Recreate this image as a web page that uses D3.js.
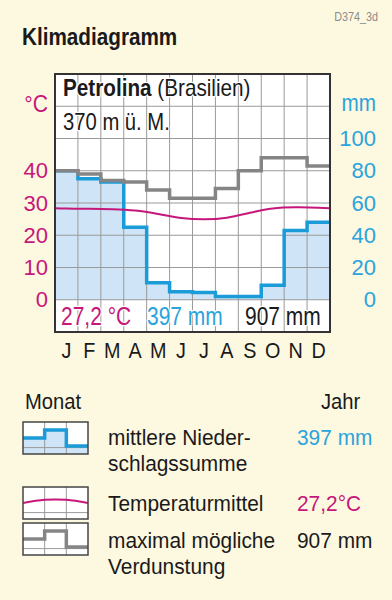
<!DOCTYPE html>
<html>
<head>
<meta charset="utf-8">
<script src="https://cdn.jsdelivr.net/npm/d3@7"></script>
<style>
  body { margin: 0; background: #fdf8e0; }
  text { font-family: "Liberation Sans", Arial, sans-serif; }
</style>
</head>
<body>
<div id="chart"></div>
<script>
const width = 392
const height = 600

// Werte
const monate = ["J", "F", "M", "A", "M", "J", "J", "A", "S", "O", "N", "D"]
const niederschlag = [80, 75, 73, 45, 10.5, 5, 4.5, 2, 2, 9, 43, 48]      // mm
const verdunstung = [80, 78, 74, 73, 68, 63, 63, 69, 80, 88, 88, 83]      // mm
const temperatur = [28.2, 28.2, 28.1, 27.8, 26.6, 25.2, 24.8, 25.2, 27.0, 28.5, 28.7, 28.6] // °C
const tempTicks = [0, 10, 20, 30, 40]
const mmTicks = [0, 20, 40, 60, 80, 100]

// Legenden-Symbole (3 Spalten)
const legendeStufen = [2, 3, 1]
const legendeBogen = [1, 1.4, 1.4, 1]

const blau = "#1b9bd8"
const blauText = "#2ba3dc"
const magenta = "#c6177a"
const grau = "#858585"
const schwarz = "#1a1a1a"

const svg = d3.select("#chart").append("svg")
    .attr("width", width)
    .attr("height", height)

// Text mit schmal gestauchter Schrift
function schrift(parent, tx, ty, groesse, sx, farbe) {
    return parent.append("text")
        .attr("transform", `translate(${tx},${ty}) scale(${sx},1)`)
        .attr("font-size", groesse)
        .attr("fill", farbe)
}

schrift(svg, 378, 21, 12, 0.9, "#8c8c8c")
    .attr("text-anchor", "end")
    .text("D374_3d")

schrift(svg, 22, 45, 23, 0.9, schwarz)
    .attr("font-weight", "bold")
    .text("Klimadiagramm")

// Skalen
const x = d3.scaleLinear().domain([0, 12]).range([55, 330])
const yT = d3.scaleLinear().domain([-10, 70]).range([332, 74])
const yN = d3.scaleLinear().domain([-20, 140]).range([332, 74])

const plot = svg.append("g")

plot.append("rect")
    .attr("x", x(0)).attr("y", yT(70))
    .attr("width", x(12) - x(0)).attr("height", yT(-10) - yT(70))
    .attr("fill", "white")

const stufen = (werte) => werte.map((v, i) => [i, v]).concat([[werte.length, werte[werte.length - 1]]])

// Niederschlagsfläche
plot.append("path")
    .attr("d", d3.area()
        .x(d => x(d[0]))
        .y0(yN(0))
        .y1(d => yN(d[1]))
        .curve(d3.curveStepAfter)(stufen(niederschlag)))
    .attr("fill", "#cfe4f6")

// Gitter
const gitter = plot.append("g").attr("stroke", "#9a9a9a").attr("stroke-width", 1)
gitter.selectAll(".v")
    .data(d3.range(1, 12))
    .join("line")
    .attr("x1", d => x(d)).attr("x2", d => x(d))
    .attr("y1", yT(70)).attr("y2", yT(-10))
gitter.selectAll(".h")
    .data(d3.range(0, 70, 10))
    .join("line")
    .attr("x1", x(0)).attr("x2", x(12))
    .attr("y1", d => yT(d)).attr("y2", d => yT(d))

const linie = (ys) => d3.line()
    .x(d => x(d[0]))
    .y(d => ys(d[1]))
    .curve(d3.curveStepAfter)

plot.append("path")
    .attr("d", linie(yN)(stufen(niederschlag)))
    .attr("fill", "none")
    .attr("stroke", blau)
    .attr("stroke-width", 3.5)

plot.append("path")
    .attr("d", linie(yN)(stufen(verdunstung)))
    .attr("fill", "none")
    .attr("stroke", grau)
    .attr("stroke-width", 3.5)

// Temperatur: zyklisch über die Ränder hinaus, dann abgeschnitten
svg.append("clipPath").attr("id", "clip")
    .append("rect")
    .attr("x", x(0)).attr("y", yT(70))
    .attr("width", x(12) - x(0)).attr("height", yT(-10) - yT(70))

const tempPunkte = [[-0.5, temperatur[11]]]
    .concat(temperatur.map((v, i) => [i + 0.5, v]))
    .concat([[12.5, temperatur[0]]])

plot.append("path")
    .attr("clip-path", "url(#clip)")
    .attr("d", d3.line().x(d => x(d[0])).y(d => yT(d[1])).curve(d3.curveBasis)(tempPunkte))
    .attr("fill", "none")
    .attr("stroke", magenta)
    .attr("stroke-width", 2)

// Rahmen
plot.append("rect")
    .attr("x", x(0)).attr("y", yT(70))
    .attr("width", x(12) - x(0)).attr("height", yT(-10) - yT(70))
    .attr("fill", "none")
    .attr("stroke", "#333")
    .attr("stroke-width", 2)

// Texte im Diagramm
const halo = (sel) => sel.attr("stroke", "white").attr("stroke-width", 2.5)
    .attr("paint-order", "stroke").attr("stroke-linejoin", "round")

schrift(plot, 63, 96, 23, 0.9, schwarz)
    .call(halo)
    .call(t => {
        t.append("tspan").attr("font-weight", "bold").text("Petrolina")
        t.append("tspan").text(" (Brasilien)")
    })

schrift(plot, 63, 130, 23, 0.88, schwarz)
    .call(halo)
    .text("370 m ü. M.")

schrift(plot, 61, 325, 25, 0.84, magenta)
    .call(halo)
    .text("27,2 °C")

schrift(plot, 147, 325, 25, 0.84, blauText)
    .call(halo)
    .text("397 mm")

schrift(plot, 245, 325, 25, 0.84, schwarz)
    .call(halo)
    .text("907 mm")

// Achsen
const achseL = svg.append("g")
    .attr("transform", `translate(48,0)`)
    .call(d3.axisLeft(yT).tickValues(tempTicks).tickSize(0).tickPadding(0))
achseL.select(".domain").remove()
achseL.selectAll("text")
    .attr("font-size", 22)
    .attr("fill", magenta)
    .attr("font-family", null)

schrift(svg, 48, 112, 24, 0.88, magenta)
    .attr("text-anchor", "end")
    .text("°C")

const achseR = svg.append("g")
    .attr("transform", `translate(376,0)`)
    .call(d3.axisLeft(yN).tickValues(mmTicks).tickSize(0).tickPadding(0))
achseR.select(".domain").remove()
achseR.selectAll("text")
    .attr("font-size", 22)
    .attr("fill", blauText)
    .attr("font-family", null)

schrift(svg, 376, 111, 23, 0.9, blauText)
    .attr("text-anchor", "end")
    .text("mm")

const monatsG = svg.append("g")
monate.forEach((m, i) => {
    schrift(monatsG, x(i + 0.5), 358, 22, 0.9, schwarz)
        .attr("text-anchor", "middle")
        .text(m)
})

// Legende
const leg = svg.append("g")
schrift(leg, 25, 409, 22, 0.92, schwarz).text("Monat")
schrift(leg, 321, 409, 22, 0.92, schwarz).text("Jahr")

function symbol(y0, art) {
    const lx = d3.scaleLinear().domain([0, 3]).range([23, 88])
    const h = 32
    const g = leg.append("g")
    g.append("rect").attr("x", lx(0)).attr("y", y0).attr("width", lx(3) - lx(0)).attr("height", h)
        .attr("fill", "white")
    const ly = d3.scaleLinear().domain([0, 4]).range([y0 + h, y0])
    const pts = stufen(legendeStufen)
    if (art === "n") {
        g.append("path")
            .attr("d", d3.area().x(d => lx(d[0])).y0(y0 + h).y1(d => ly(d[1])).curve(d3.curveStepAfter)(pts))
            .attr("fill", "#cfe4f6")
    }
    g.selectAll(".v").data([1, 2]).join("line")
        .attr("x1", d => lx(d)).attr("x2", d => lx(d)).attr("y1", y0).attr("y2", y0 + h)
        .attr("stroke", "#9a9a9a")
    g.append("line").attr("x1", lx(0)).attr("x2", lx(3)).attr("y1", y0 + h * 0.8).attr("y2", y0 + h * 0.8)
        .attr("stroke", "#9a9a9a")
    if (art === "t") {
        g.append("path")
            .attr("d", d3.line().x((d, i) => lx(i)).y(d => ly(d)).curve(d3.curveCardinal)(legendeBogen.map(v => v + 1)))
            .attr("fill", "none").attr("stroke", magenta).attr("stroke-width", 2)
    } else {
        g.append("path")
            .attr("d", d3.line().x(d => lx(d[0])).y(d => ly(d[1])).curve(d3.curveStepAfter)(pts))
            .attr("fill", "none").attr("stroke", art === "n" ? blau : grau).attr("stroke-width", 3.5)
    }
    g.append("rect").attr("x", lx(0)).attr("y", y0).attr("width", lx(3) - lx(0)).attr("height", h)
        .attr("fill", "none").attr("stroke", "#444").attr("stroke-width", 1.5)
}

symbol(422, "n")
symbol(487, "t")
symbol(523, "v")

const zeile = (tx, ty, farbe, s) => schrift(leg, tx, ty, 22, 0.95, farbe).text(s)

zeile(108, 445, schwarz, "mittlere Nieder-")
zeile(108, 471, schwarz, "schlagssumme")
zeile(297, 445, blauText, "397 mm")
zeile(108, 511, schwarz, "Temperaturmittel")
zeile(297, 511, magenta, "27,2°C")
zeile(108, 548, schwarz, "maximal mögliche")
zeile(108, 574, schwarz, "Verdunstung")
zeile(297, 548, schwarz, "907 mm")
</script>
</body>
</html>
